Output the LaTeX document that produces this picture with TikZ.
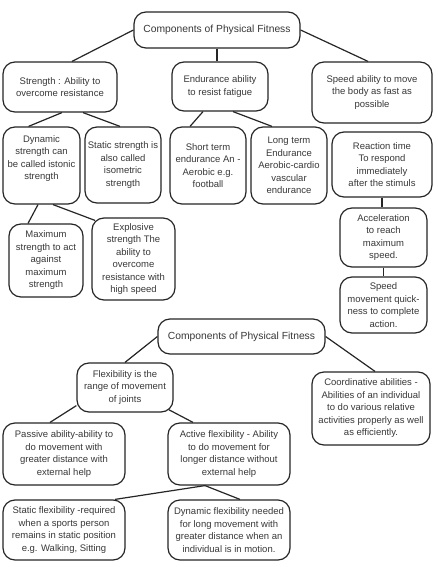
\documentclass[tikz,border=0pt]{standalone}
\usepackage{fontspec}
\setmainfont{Liberation Sans}
\begin{document}
\begin{tikzpicture}[x=1pt,y=-1pt,
  box/.style={draw=black!85, rounded corners=12pt, line width=1.2pt, align=center, inner sep=0pt,
    font=\fontsize{9.5}{12.5}\selectfont, text=black!78},
  title/.style={box, font=\fontsize{10.3}{12.5}\selectfont},
  conn/.style={draw=black!85, line width=1.2pt}]
\useasboundingbox[fill=white] (0,0) rectangle (437,567);

\node[title, minimum width=166pt, minimum height=36pt] (top) at (217,30) {Components of Physical Fitness};
\node[box, minimum width=114pt, minimum height=50pt] (strength) at (60,87) {Strength : Ability to\\overcome resistance};
\node[box, minimum width=96pt, minimum height=49pt] (endur) at (220,86.5) {Endurance ability\\to resist fatigue};
\node[box, minimum width=120pt, minimum height=61pt] (speed) at (372,92.5) {Speed ability to move\\the body as fast as\\possible};

\node[box, minimum width=77pt, minimum height=77pt] (dyn) at (41.5,165.5) {Dynamic\\strength can\\be called istonic\\strength\\[3pt]\mbox{}};
\node[box, minimum width=76pt, minimum height=76pt] (static) at (123,165) {Static strength is\\also called\\isometric\\strength};
\node[box, minimum width=76pt, minimum height=77pt] (short) at (208,165.5) {Short term\\endurance An -\\Aerobic e.g.\\football};
\node[box, minimum width=76pt, minimum height=77pt] (long) at (289,165.5) {Long term\\Endurance\\Aerobic-cardio\\vascular\\endurance};
\node[box, minimum width=100pt, minimum height=65pt] (reaction) at (382,164.5) {Reaction time\\To respond\\immediately\\after the stimuls};

\node[box, minimum width=74pt, minimum height=73pt] (max) at (46,260.5) {Maximum\\strength to act\\against\\maximum\\strength};
\node[box, minimum width=83pt, minimum height=82pt] (explosive) at (133.5,259) {Explosive\\strength The\\ability to\\overcome\\resistance with\\high speed};
\node[box, minimum width=87pt, minimum height=59pt] (accel) at (383.5,237.5) {Acceleration\\to reach\\maximum\\speed.};
\node[box, minimum width=87pt, minimum height=56pt] (speedmov) at (383.5,305) {Speed\\movement quick-\\ness to complete\\action.};

\node[title, minimum width=167pt, minimum height=35pt] (top2) at (241.5,336.5) {Components of Physical Fitness};
\node[box, minimum width=96pt, minimum height=49pt] (flex) at (125,387.5) {Flexibility is the\\range of movement\\of joints};
\node[box, minimum width=118pt, minimum height=73pt] (coord) at (371,408.5) {Coordinative abilities -\\Abilities of an individual\\to do various relative\\activities properly as well\\as efficiently.};
\node[box, minimum width=122pt, minimum height=62pt] (passive) at (64,454) {Passive ability-ability to\\do movement with\\greater distance with\\external help};
\node[box, minimum width=122pt, minimum height=62pt] (active) at (229,454) {Active flexibility - Ability\\to do movement for\\longer distance without\\external help};
\node[box, minimum width=122pt, minimum height=60pt] (staticflex) at (64,530) {Static flexibility -required\\when a sports person\\remains in static position\\e.g. Walking, Sitting};
\node[box, minimum width=122pt, minimum height=60pt] (dynflex) at (229,530) {Dynamic flexibility needed\\for long movement with\\greater distance when an\\individual is in motion.};

\draw[conn] (top.west) -- ([xshift=12pt]strength.north);
\draw[conn] (top.south) -- (top.south |- endur.north);
\draw[conn] (top.east) -- ([xshift=-4pt]speed.north);
\draw[conn] ([xshift=2pt]strength.south) -- ([xshift=-13pt]dyn.north);
\draw[conn] ([xshift=23pt]strength.south) -- ([xshift=-3pt]static.north);
\draw[conn] ([xshift=-17pt]endur.south) -- ([xshift=-18pt]short.north);
\draw[conn] ([xshift=13pt]endur.south) -- ([xshift=-17pt]long.north);
\draw[conn] (reaction.south) -- (reaction.south |- accel.north);
\draw[conn] (accel.south) -- (accel.south |- speedmov.north);
\draw[conn] ([xshift=-3.5pt]dyn.south) -- ([xshift=-18pt]max.north);
\draw[conn] ([xshift=11.5pt]dyn.south) -- ([shift={(-38.5pt,-3pt)}]explosive.north);
\draw[conn] (top2.west) -- (flex.north);
\draw[conn] (top2.east) -- ([xshift=4pt]coord.north);
\draw[conn] ([yshift=7pt]flex.south west) -- ([xshift=-14pt]passive.north);
\draw[conn] ([shift={(-5pt,3pt)}]flex.south east) -- ([xshift=-36pt]active.north);
\draw[conn] ([xshift=-24pt]active.south) -- ([xshift=51pt]staticflex.north);
\draw[conn] ([xshift=-24pt]active.south) -- ([xshift=11pt]dynflex.north);
\end{tikzpicture}
\end{document}
